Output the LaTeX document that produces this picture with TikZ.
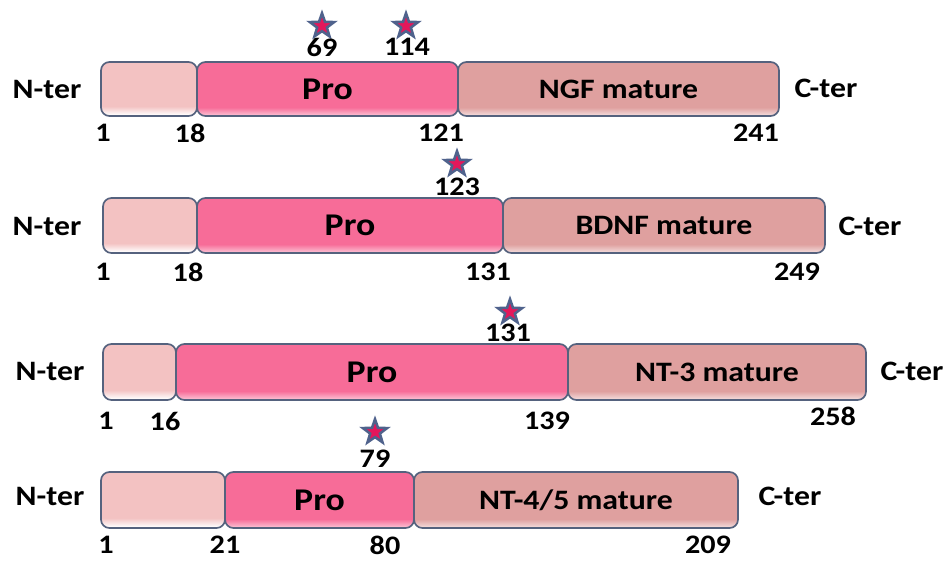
\documentclass[tikz,border=0pt]{standalone}
\usepackage{fontspec}
\setmainfont{Carlito}[FakeStretch=1.13]
\usetikzlibrary{shapes.geometric}
\definecolor{sigc}{HTML}{F3C2C2}
\definecolor{proc}{HTML}{F76C98}
\definecolor{matc}{HTML}{DFA09F}
\definecolor{edge}{HTML}{55627E}
\definecolor{starc}{HTML}{E3175B}
\definecolor{starb}{HTML}{4F628C}
\pgfdeclareverticalshading{sigshade}{100bp}{color(0bp)=(white); color(26bp)=(white); color(34bp)=(sigc); color(100bp)=(sigc)}
\pgfdeclareverticalshading{proshade}{100bp}{color(0bp)=(proc!45!white); color(26bp)=(proc!45!white); color(33bp)=(proc); color(100bp)=(proc)}
\pgfdeclareverticalshading{matshade}{100bp}{color(0bp)=(matc!40!white); color(26bp)=(matc!40!white); color(33bp)=(matc); color(100bp)=(matc)}

\begin{document}
\begin{tikzpicture}[x=0.025cm, y=-0.025cm,
  seg/.style={draw=edge, line width=1.2pt, rounded corners=6pt, inner sep=0pt, font=\bfseries\fontsize{20}{22}\selectfont},
  sig/.style={seg, shading=sigshade},
  pro/.style={seg, shading=proshade, font=\bfseries\fontsize{22.5}{25}\selectfont},
  mat/.style={seg, shading=matshade},
  lbl/.style={font=\bfseries\fontsize{20}{22}\selectfont, inner sep=1pt},
  num/.style={font=\bfseries\fontsize{19}{21}\selectfont, inner sep=1pt},
  site/.style={star, star points=5, star point ratio=2.5, minimum size=0.64cm, inner sep=0pt, fill=starc, draw=starb, line width=1.8pt}]
\useasboundingbox (0,0) rectangle (946,560);

% NGF
\node[sig, minimum width=96*0.025cm, minimum height=54*0.025cm] (sig1) at (149,89) {};
\node[pro, minimum width=261*0.025cm, minimum height=54*0.025cm] (pro1) at (327.5,89) {Pro};
\node[mat, minimum width=321*0.025cm, minimum height=54*0.025cm] (mat1) at (618.5,89) {NGF mature};
\node[lbl] (n1) at (47,89) {N-ter};
\node[lbl] (c1) at (826,88) {C-ter};
\node[num] (a1) at (103,133) {1};
\node[num] (b1) at (190,133) {18};
\node[num] (d1) at (441,133) {121};
\node[num] (e1) at (756,133) {241};
\node[site] (s1a) at (322,26) {};
\node[site] (s1b) at (406,26) {};
\node[num] (t1a) at (322,47) {69};
\node[num] (t1b) at (407,47) {114};

% BDNF
\node[sig, minimum width=94*0.025cm, minimum height=55*0.025cm] (sig2) at (150,225.5) {};
\node[pro, minimum width=306*0.025cm, minimum height=55*0.025cm] (pro2) at (350,225.5) {Pro};
\node[mat, minimum width=322*0.025cm, minimum height=55*0.025cm] (mat2) at (664,225.5) {BDNF mature};
\node[lbl] (n2) at (47,226) {N-ter};
\node[lbl] (c2) at (870,226) {C-ter};
\node[num] (a2) at (103,272) {1};
\node[num] (b2) at (188,272) {18};
\node[num] (d2) at (488,272) {131};
\node[num] (e2) at (797,272) {249};
\node[site] (s2) at (457,164) {};
\node[num] (t2) at (457,187) {123};

% NT-3
\node[sig, minimum width=73*0.025cm, minimum height=56*0.025cm] (sig3) at (139.5,372) {};
\node[pro, minimum width=392*0.025cm, minimum height=56*0.025cm] (pro3) at (372,372) {Pro};
\node[mat, minimum width=298*0.025cm, minimum height=56*0.025cm] (mat3) at (717,372) {NT-3 mature};
\node[lbl] (n3) at (50,371) {N-ter};
\node[lbl] (c3) at (912,371) {C-ter};
\node[num] (a3) at (106,421) {1};
\node[num] (b3) at (165,421) {16};
\node[num] (d3) at (547,421) {139};
\node[num] (e3) at (833,416) {258};
\node[site] (s3) at (510,312) {};
\node[num] (t3) at (508,333) {131};

% NT-4/5
\node[sig, minimum width=124*0.025cm, minimum height=56*0.025cm] (sig4) at (163,500) {};
\node[pro, minimum width=189*0.025cm, minimum height=56*0.025cm] (pro4) at (319.5,500) {Pro};
\node[mat, minimum width=324*0.025cm, minimum height=56*0.025cm] (mat4) at (576,500) {NT-4/5 mature};
\node[lbl] (n4) at (50,496) {N-ter};
\node[lbl] (c4) at (790,496) {C-ter};
\node[num] (a4) at (106,545) {1};
\node[num] (b4) at (225,545) {21};
\node[num] (d4) at (385,545) {80};
\node[num] (e4) at (708,545) {209};
\node[site] (s4) at (375,432) {};
\node[num] (t4) at (375,459) {79};
\end{tikzpicture}
\end{document}
